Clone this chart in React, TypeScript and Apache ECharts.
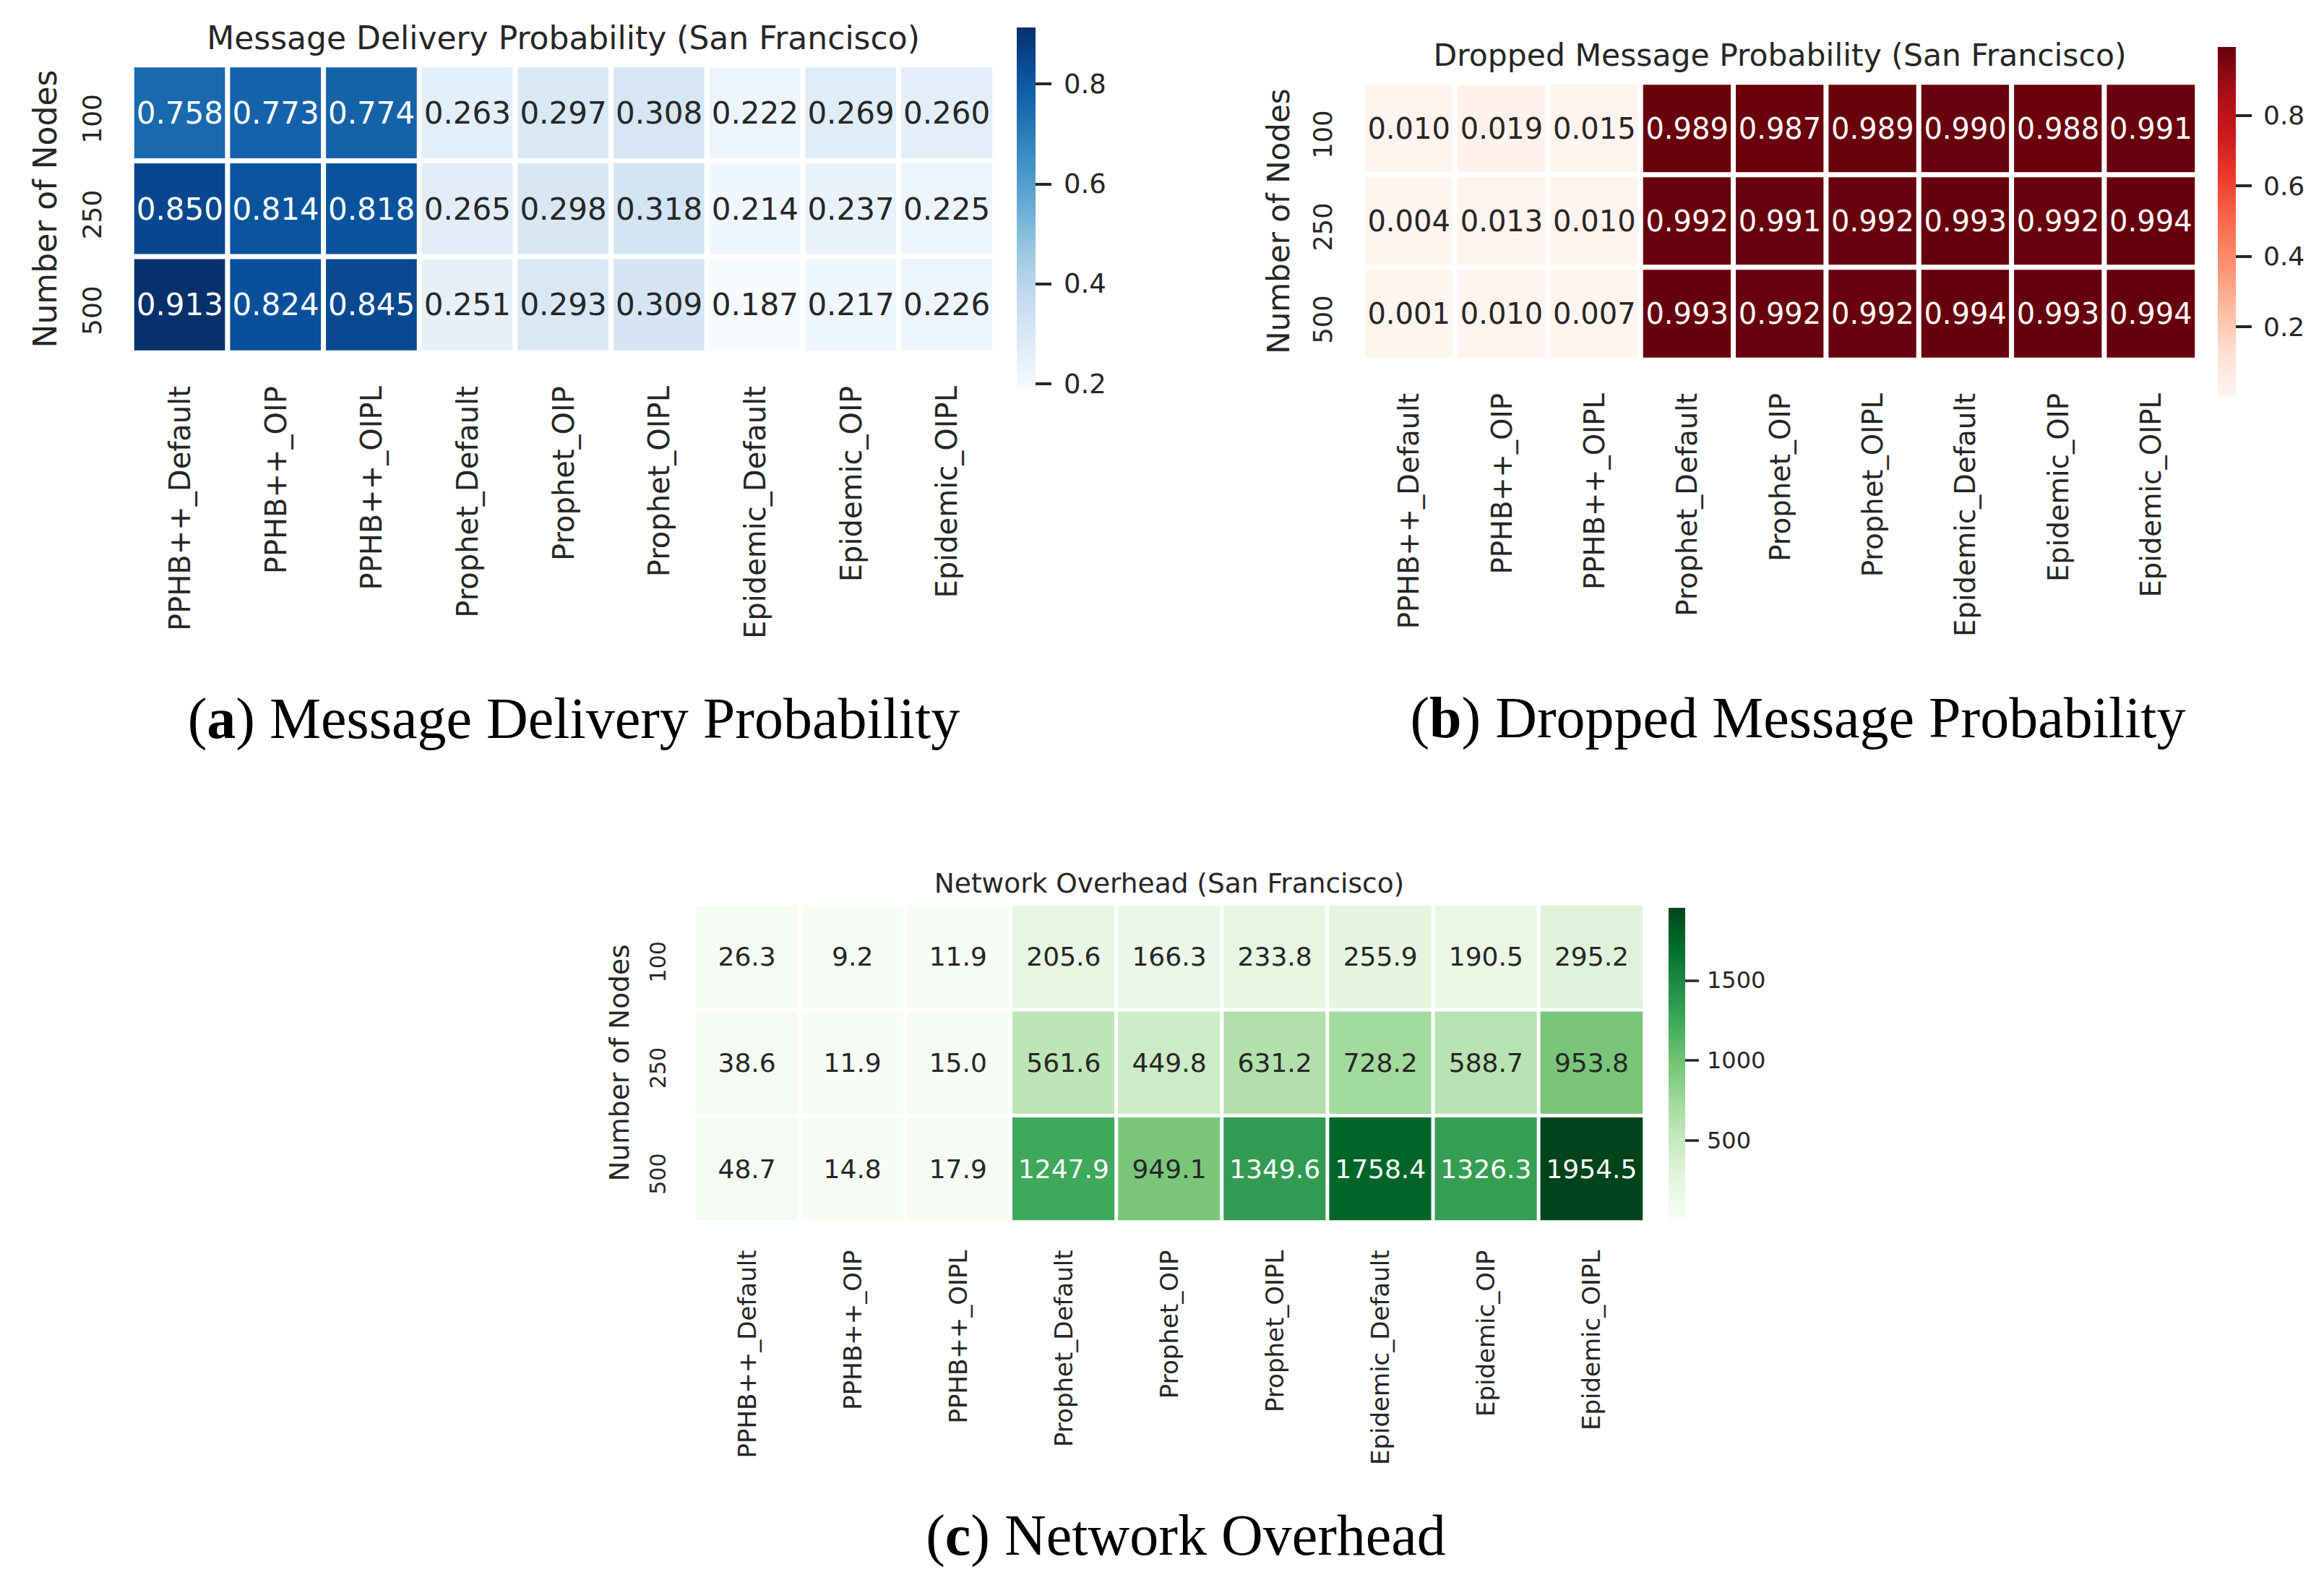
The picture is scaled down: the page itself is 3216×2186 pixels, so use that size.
import React, { useEffect, useRef } from 'react';
import * as echarts from 'echarts';

// ---------- data ----------
const METHODS = [
  'PPHB++_Default', 'PPHB++_OIP', 'PPHB++_OIPL',
  'Prophet_Default', 'Prophet_OIP', 'Prophet_OIPL',
  'Epidemic_Default', 'Epidemic_OIP', 'Epidemic_OIPL',
];
const NODE_COUNTS = ['100', '250', '500'];

const DELIVERY_100 = [0.758, 0.773, 0.774, 0.263, 0.297, 0.308, 0.222, 0.269, 0.260];
const DELIVERY_250 = [0.850, 0.814, 0.818, 0.265, 0.298, 0.318, 0.214, 0.237, 0.225];
const DELIVERY_500 = [0.913, 0.824, 0.845, 0.251, 0.293, 0.309, 0.187, 0.217, 0.226];

const DROPPED_100 = [0.010, 0.019, 0.015, 0.989, 0.987, 0.989, 0.990, 0.988, 0.991];
const DROPPED_250 = [0.004, 0.013, 0.010, 0.992, 0.991, 0.992, 0.993, 0.992, 0.994];
const DROPPED_500 = [0.001, 0.010, 0.007, 0.993, 0.992, 0.992, 0.994, 0.993, 0.994];

const OVERHEAD_100 = [26.3, 9.2, 11.9, 205.6, 166.3, 233.8, 255.9, 190.5, 295.2];
const OVERHEAD_250 = [38.6, 11.9, 15.0, 561.6, 449.8, 631.2, 728.2, 588.7, 953.8];
const OVERHEAD_500 = [48.7, 14.8, 17.9, 1247.9, 949.1, 1349.6, 1758.4, 1326.3, 1954.5];

const DELIVERY_TICKS = [0.2, 0.4, 0.6, 0.8];
const DROPPED_TICKS = [0.2, 0.4, 0.6, 0.8];
const OVERHEAD_TICKS = [500, 1000, 1500];

// ColorBrewer 9-class sequential palettes (matplotlib Blues / Reds / Greens)
const BLUES = ['#f7fbff', '#deebf7', '#c6dbef', '#9ecae1', '#6baed6', '#4292c6', '#2171b5', '#08519c', '#08306b'];
const REDS = ['#fff5f0', '#fee0d2', '#fcbba1', '#fc9272', '#fb6a4a', '#ef3b2c', '#cb181d', '#a50f15', '#67000d'];
const GREENS = ['#f7fcf5', '#e5f5e0', '#c7e9c0', '#a1d99b', '#74c476', '#41ab5d', '#238b45', '#006d2c', '#00441b'];

// ---------- helpers ----------
const SANS = "'DejaVu Sans', sans-serif";
const SERIF = "'Liberation Serif', 'DejaVu Serif', serif";
const DARK = '#262626';

function hexToRgb(h: string) {
  const n = parseInt(h.slice(1), 16);
  return [(n >> 16) & 255, (n >> 8) & 255, n & 255];
}
function colorAt(palette: string[], t: number) {
  const n = palette.length - 1;
  const p = Math.min(Math.max(t, 0), 1) * n;
  const i = Math.min(Math.floor(p), n - 1);
  const f = p - i;
  const a = hexToRgb(palette[i]);
  const b = hexToRgb(palette[i + 1]);
  return a.map((v, k) => v + (b[k] - v) * f);
}
function luminance(rgb: number[]) {
  const c = rgb.map((v) => {
    const x = v / 255;
    return x <= 0.03928 ? x / 12.92 : Math.pow((x + 0.055) / 1.055, 2.4);
  });
  return 0.2126 * c[0] + 0.7152 * c[1] + 0.0722 * c[2];
}

const PANELS = [
  {
    rows: [DELIVERY_100, DELIVERY_250, DELIVERY_500],
    palette: BLUES,
    ticks: DELIVERY_TICKS,
    decimals: 3,
    tickDecimals: 1,
    title: 'Message Delivery Probability (San Francisco)',
    capLetter: 'a',
    capText: ' Message Delivery Probability',
    L: {
      grid: { left: 182.5, top: 90, width: 1194, height: 398 },
      border: 7, annot: 42, xFont: 40, xMargin: 46, yFont: 36, yMargin: 37, yShift: 16,
      nameFont: 44, nameGap: 98, titleFont: 44, titleX: 779.5, titleY: 52,
      cbar: { left: 1407, top: 38, width: 26, height: 502 },
      cbFont: 37, cbMargin: 39, cbTick: 22, cbTickW: 4,
      capX: 794, capY: 994, capFont: 80,
    },
  },
  {
    rows: [DROPPED_100, DROPPED_250, DROPPED_500],
    palette: REDS,
    ticks: DROPPED_TICKS,
    decimals: 3,
    tickDecimals: 1,
    title: 'Dropped Message Probability (San Francisco)',
    capLetter: 'b',
    capText: ' Dropped Message Probability',
    L: {
      grid: { left: 1885.5, top: 114, width: 1155, height: 384 },
      border: 7, annot: 40, xFont: 38.5, xMargin: 46, yFont: 35, yMargin: 37, yShift: 16,
      nameFont: 42, nameGap: 95, titleFont: 42.5, titleX: 2463, titleY: 76,
      cbar: { left: 3069, top: 65, width: 25, height: 484 },
      cbFont: 36, cbMargin: 38, cbTick: 22, cbTickW: 4,
      capX: 2488, capY: 993, capFont: 80,
    },
  },
  {
    rows: [OVERHEAD_100, OVERHEAD_250, OVERHEAD_500],
    palette: GREENS,
    ticks: OVERHEAD_TICKS,
    decimals: 1,
    tickDecimals: 0,
    title: 'Network Overhead (San Francisco)',
    capLetter: 'c',
    capText: ' Network Overhead',
    L: {
      grid: { left: 960.5, top: 1250.5, width: 1315, height: 440 },
      border: 5, annot: 36, xFont: 34, xMargin: 39, yFont: 30, yMargin: 35, yShift: 14,
      nameFont: 37.5, nameGap: 85, titleFont: 37.5, titleX: 1618, titleY: 1221.5,
      cbar: { left: 2309, top: 1256, width: 23, height: 430 },
      cbFont: 32, cbMargin: 30, cbTick: 19, cbTickW: 3.5,
      capX: 1641, capY: 2124, capFont: 80,
    },
  },
];

function buildOption() {
  const grid: any[] = [];
  const xAxis: any[] = [];
  const yAxis: any[] = [];
  const series: any[] = [];
  const visualMap: any[] = [];
  const graphic: any[] = [];

  PANELS.forEach((P) => {
    const L = P.L;
    const all = P.rows.flat();
    const vmin = Math.min(...all);
    const vmax = Math.max(...all);

    // heatmap grid
    const hg = grid.length;
    grid.push({ ...L.grid, containLabel: false });
    xAxis.push({
      type: 'category', gridIndex: hg, data: METHODS,
      axisLine: { show: false }, axisTick: { show: false }, splitArea: { show: false },
      axisLabel: { rotate: 90, margin: L.xMargin, fontSize: L.xFont, fontFamily: SANS, color: DARK, interval: 0 },
    });
    yAxis.push({
      type: 'category', gridIndex: hg, data: NODE_COUNTS, inverse: true,
      axisLine: { show: false }, axisTick: { show: false }, splitArea: { show: false },
      axisLabel: {
        rotate: 90, margin: L.yMargin, fontSize: L.yFont, fontFamily: SANS, color: DARK,
        padding: [0, L.yShift, 0, 0],
      },
      name: 'Number of Nodes', nameLocation: 'middle', nameRotate: 90, nameGap: L.nameGap,
      nameTextStyle: { fontSize: L.nameFont, fontFamily: SANS, color: DARK },
    });
    const data: any[] = [];
    P.rows.forEach((row, ri) => {
      row.forEach((v, ci) => {
        const rgb = colorAt(P.palette, (v - vmin) / (vmax - vmin));
        const txt = luminance(rgb) > 0.408 ? DARK : '#ffffff';
        data.push({ value: [ci, ri, v], label: { color: txt } });
      });
    });
    const hs = series.length;
    series.push({
      type: 'heatmap', xAxisIndex: hg, yAxisIndex: hg, data,
      itemStyle: { borderColor: '#ffffff', borderWidth: L.border },
      label: {
        show: true, fontSize: L.annot, fontFamily: SANS,
        formatter: (p: any) => Number(p.value[2]).toFixed(P.decimals),
      },
      emphasis: { disabled: true },
      silent: true,
    });
    visualMap.push({
      type: 'continuous', show: false, seriesIndex: hs, dimension: 2,
      min: vmin, max: vmax, inRange: { color: P.palette },
    });

    // colorbar grid
    const cg = grid.length;
    grid.push({ ...L.cbar, containLabel: false });
    xAxis.push({ type: 'category', gridIndex: cg, data: ['cbar'], show: false });
    yAxis.push({
      type: 'value', gridIndex: cg, position: 'right', min: vmin, max: vmax,
      axisLine: { show: false }, splitLine: { show: false },
      axisTick: { show: true, customValues: P.ticks, length: L.cbTick, lineStyle: { color: DARK, width: L.cbTickW } },
      axisLabel: {
        customValues: P.ticks, margin: L.cbMargin, fontSize: L.cbFont, fontFamily: SANS, color: DARK,
        formatter: (v: number) => Number(v).toFixed(P.tickDecimals),
      },
    });
    const stops = P.palette.map((c, i) => ({ offset: i / (P.palette.length - 1), color: c }));
    series.push({
      type: 'custom', xAxisIndex: cg, yAxisIndex: cg, silent: true,
      data: [[0, vmin, vmax]],
      encode: { x: 0, y: [1, 2] },
      renderItem: (params: any, api: any) => {
        const top = api.coord([api.value(0), api.value(2)]);
        const bot = api.coord([api.value(0), api.value(1)]);
        const w = api.size([1, 0])[0];
        return {
          type: 'rect',
          shape: { x: top[0] - w / 2, y: top[1], width: w, height: bot[1] - top[1] },
          style: { fill: new echarts.graphic.LinearGradient(0, 1, 0, 0, stops) },
        };
      },
    });

    // heatmap title
    graphic.push({
      type: 'text', x: L.titleX, y: L.titleY, silent: true,
      style: {
        text: P.title, fontSize: L.titleFont, fontFamily: SANS, fill: DARK,
        align: 'center', verticalAlign: 'middle', textAlign: 'center', textVerticalAlign: 'middle',
      },
    });
    // sub-figure caption
    graphic.push({
      type: 'text', x: L.capX, y: L.capY, silent: true,
      style: {
        text: `{n|(}{b|${P.capLetter}}{n|)${P.capText}}`,
        fill: '#000000',
        align: 'center', verticalAlign: 'middle', textAlign: 'center', textVerticalAlign: 'middle',
        rich: {
          n: { fontSize: L.capFont, fontFamily: SERIF, fill: '#000000' },
          b: { fontSize: L.capFont, fontFamily: SERIF, fontWeight: 'bold', fill: '#000000' },
        },
      },
    });
  });

  return {
    animation: false,
    backgroundColor: '#ffffff',
    grid, xAxis, yAxis, series, visualMap, graphic,
  };
}

export default function App() {
  const ref = useRef<HTMLDivElement>(null);
  useEffect(() => {
    document.body.style.margin = '0';
    if (!ref.current) return;
    const chart = echarts.init(ref.current, undefined, { renderer: 'svg' });
    chart.setOption(buildOption() as any);
    return () => chart.dispose();
  }, []);
  return (
    <div
      ref={ref}
      style={{ position: 'absolute', left: 0, top: 0, width: 3216, height: 2186, background: '#ffffff' }}
    />
  );
}
